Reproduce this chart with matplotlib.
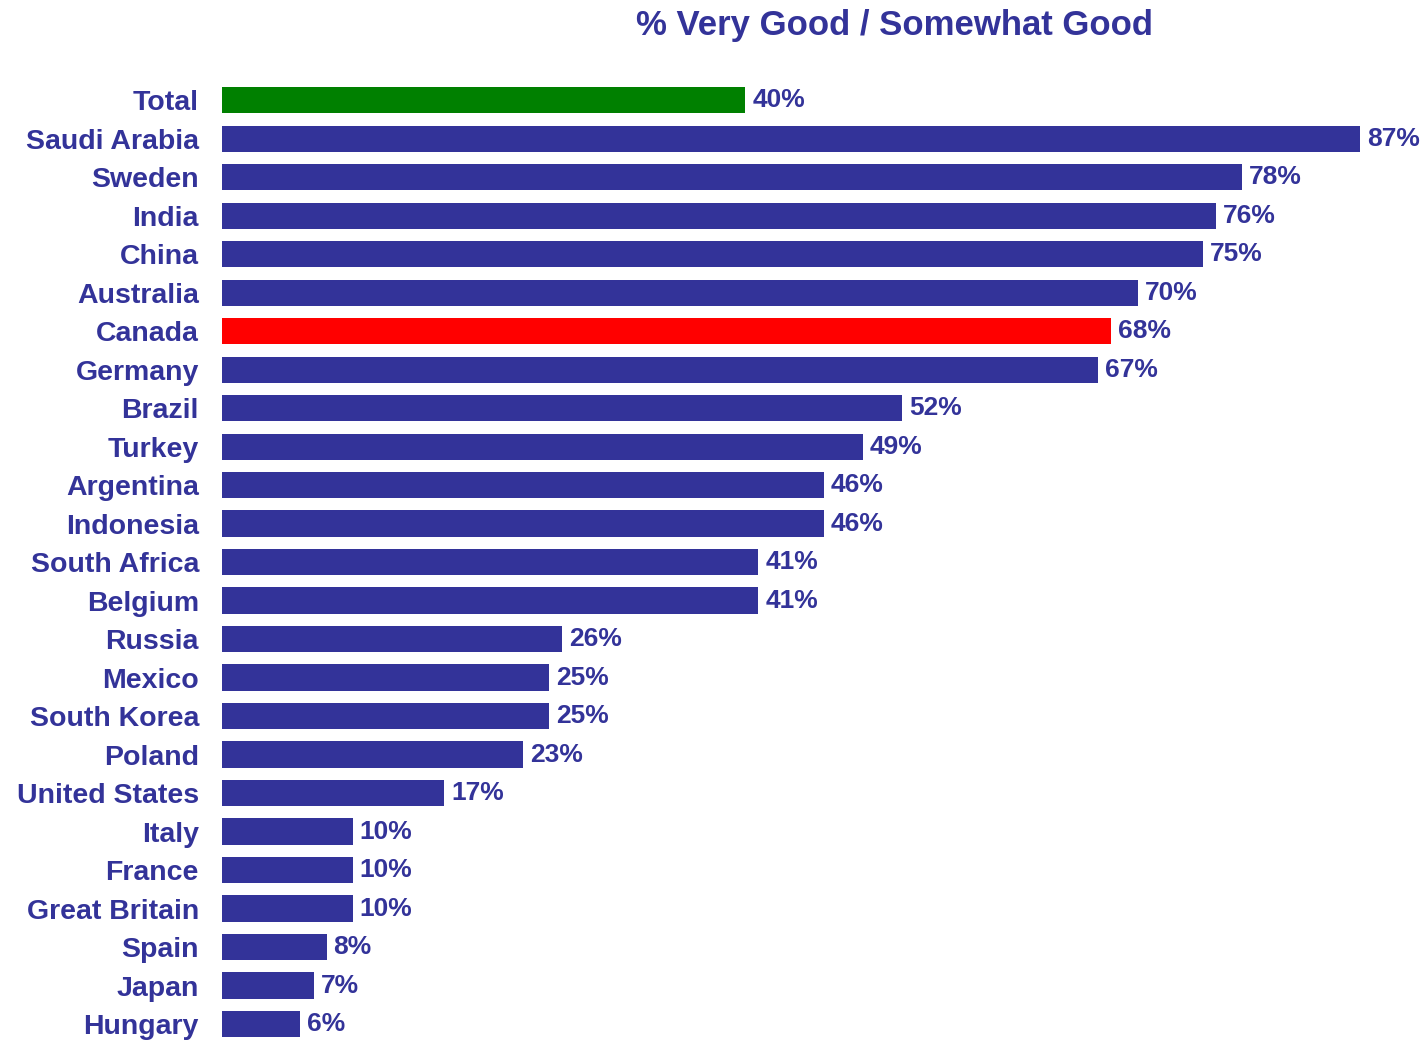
import matplotlib
matplotlib.use("Agg")
import matplotlib.pyplot as plt

countries = ["Total", "Saudi Arabia", "Sweden", "India", "China", "Australia", "Canada",
             "Germany", "Brazil", "Turkey", "Argentina", "Indonesia", "South Africa",
             "Belgium", "Russia", "Mexico", "South Korea", "Poland", "United States",
             "Italy", "France", "Great Britain", "Spain", "Japan", "Hungary"]
values = [40, 87, 78, 76, 75, 70, 68, 67, 52, 49, 46, 46, 41, 41, 26, 25, 25, 23, 17,
          10, 10, 10, 8, 7, 6]
title = "% Very Good / Somewhat Good"

NAVY = "#333399"
colors = [NAVY] * len(countries)
colors[0] = "#008000"
colors[countries.index("Canada")] = "#FF0000"

plt.rcParams['font.family'] = ['Liberation Sans', 'DejaVu Sans']

W, H = 1423, 1041
fig = plt.figure(figsize=(W / 100, H / 100), dpi=100)
ax = fig.add_axes([222 / W, 0, 1 - 222 / W, (H - 62) / H])

pos = list(range(len(countries)))
ax.barh(pos, values, height=0.68, color=colors)
ax.set_xlim(0, (W - 222) / ((1360 - 222) / 87))
ax.set_ylim(len(countries) - 1 + 0.44, -0.99)

ax.set_yticks(pos)
ax.set_yticklabels(countries, fontsize=20.5, fontweight='bold', color=NAVY)
ax.tick_params(axis='y', length=0, pad=16.6)
ax.set_xticks([])
for s in ax.spines.values():
    s.set_visible(False)

for p, v in zip(pos, values):
    ax.annotate(f"{v}%", (v, p), xytext=(5, 0), textcoords='offset points',
                va='center', ha='left', fontsize=19, fontweight='bold', color=NAVY)

fig.text(895 / W, 1 - 25 / H, title, ha='center', va='center', fontsize=25,
         fontweight='bold', color=NAVY)

fig.savefig("out.png", dpi=100)
